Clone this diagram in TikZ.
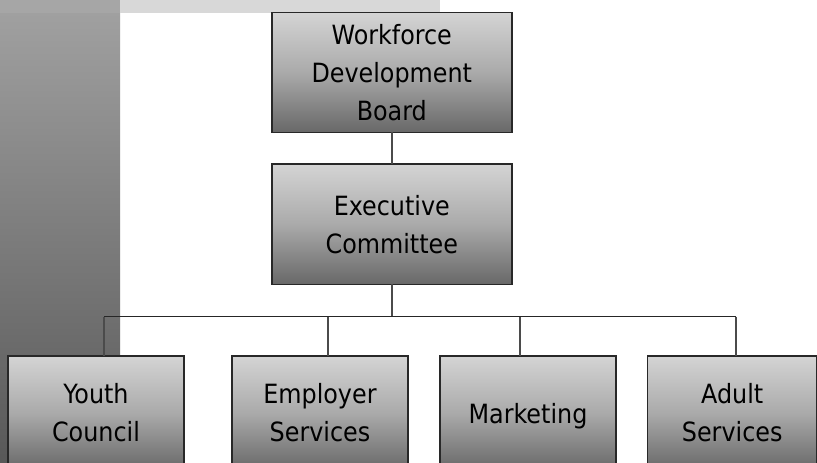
\documentclass[tikz,border=0pt]{standalone}
\usepackage{fontspec}
\setmainfont{DejaVu Sans Condensed}
\definecolor{boxtop}{RGB}{212,212,212}
\definecolor{boxmid}{RGB}{170,170,170}
\definecolor{boxbot}{RGB}{104,104,104}
\definecolor{bartop}{RGB}{162,162,162}
\definecolor{barbot}{RGB}{88,88,88}
\definecolor{topbar}{RGB}{216,216,216}
\definecolor{topbarl}{RGB}{166,166,166}
\definecolor{edge}{RGB}{40,40,40}
\definecolor{wire}{RGB}{75,75,75}
\tikzset{
  orgbox/.style={draw=edge, line width=1.4pt, rectangle, inner sep=0pt, outer sep=0pt,
    top color=boxtop, bottom color=boxbot, middle color=boxmid,
    align=center, font=\fontsize{26.5}{38}\selectfont, text=black},
  wireline/.style={draw=wire, line width=1.7pt},
  hline/.style={draw=black!85, line width=1.7pt}
}
\begin{document}
\begin{tikzpicture}[x=1pt,y=-1pt]
\useasboundingbox (0,0) rectangle (817,463);
\clip (0,0) rectangle (817,463);
\fill[white] (0,0) rectangle (817,463);
% decorative bars
\shade[top color=bartop, bottom color=barbot] (0,0) rectangle (120,463);
\fill[topbar] (120,0) rectangle (440,12.7);
\fill[topbarl] (0,0) rectangle (120,12.7);
% boxes
\node[orgbox, minimum width=240, minimum height=119.5] (wdb) at (391.8,72.5)
  {Workforce\\Development\\Board};
\node[orgbox, minimum width=240, minimum height=120.3] (exec) at (391.8,224.2)
  {Executive\\Committee};
\node[orgbox, minimum width=176.3, minimum height=114] (youth) at (96,413)
  {Youth\\Council};
\node[orgbox, minimum width=176.3, minimum height=114] (emp) at (320,413)
  {Employer\\Services};
\node[orgbox, minimum width=176.3, minimum height=114, text depth=0pt] (mkt) at (528,413)
  {Marketing};
\node[orgbox, minimum width=169, minimum height=114] (adult) at (732.2,413)
  {Adult\\Services};
% connector coordinates
\coordinate (hub) at (391.8,316.5);
\coordinate (jy) at (104,316.5);
\coordinate (je) at (328.3,316.5);
\coordinate (jm) at (520,316.5);
\coordinate (ja) at (735.8,316.5);
% connectors
\draw[wireline] (wdb.south) -- (exec.north);
\draw[wireline] (exec.south) -- (hub);
\draw[hline] (jy) -- (ja);
\draw[wireline] (jy) -- (jy |- youth.north);
\draw[wireline] (je) -- (je |- emp.north);
\draw[wireline] (jm) -- (jm |- mkt.north);
\draw[wireline] (ja) -- (ja |- adult.north);
\end{tikzpicture}
\end{document}
